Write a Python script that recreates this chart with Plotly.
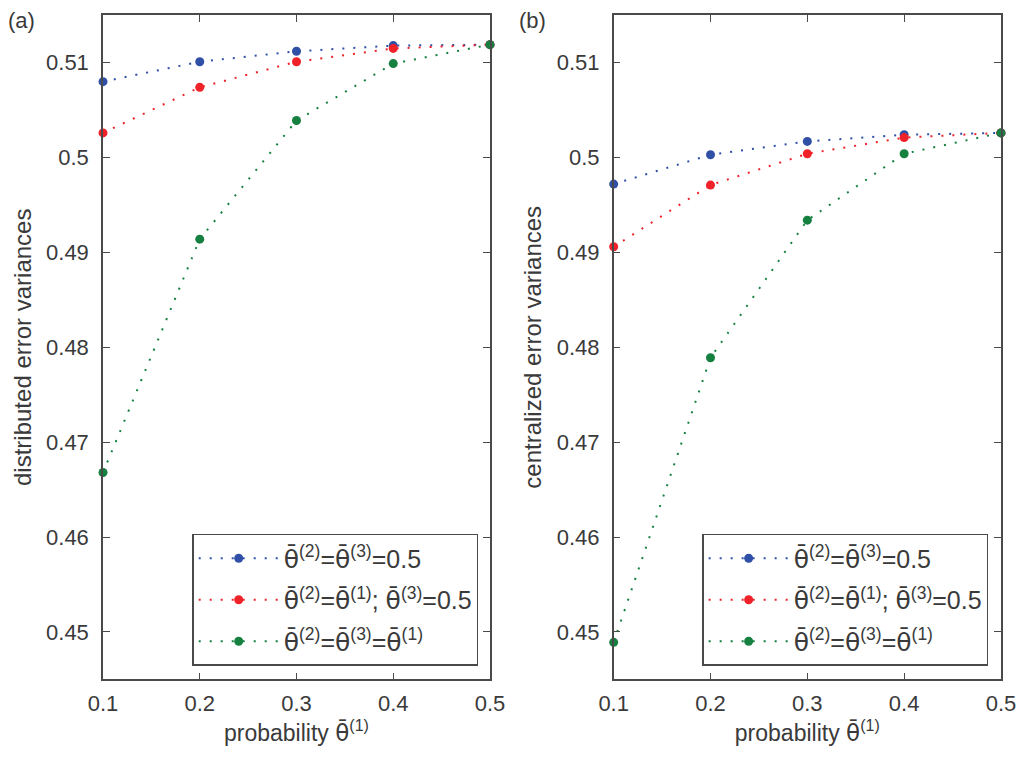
import plotly.graph_objects as go

# probability theta^(1)
prob = [0.1, 0.2, 0.3, 0.4, 0.5]

# (a) distributed error variances
dist_const = [0.5080, 0.5101, 0.5112, 0.5118, 0.5119]
dist_half = [0.5026, 0.5074, 0.5101, 0.5115, 0.5119]
dist_equal = [0.4668, 0.4914, 0.5039, 0.5099, 0.5119]

# (b) centralized error variances
cent_const = [0.4972, 0.5003, 0.5017, 0.5024, 0.5026]
cent_half = [0.4906, 0.4971, 0.5004, 0.5021, 0.5026]
cent_equal = [0.4489, 0.4789, 0.4934, 0.5004, 0.5026]

TH = "<span style='font-family:DejaVu Sans'>θ\u0304</span>"
series_names = [
    TH + "<sup>(2)</sup>=" + TH + "<sup>(3)</sup>=0.5",
    TH + "<sup>(2)</sup>=" + TH + "<sup>(1)</sup>; " + TH + "<sup>(3)</sup>=0.5",
    TH + "<sup>(2)</sup>=" + TH + "<sup>(3)</sup>=" + TH + "<sup>(1)</sup>",
]
colors = ["#3050a8", "#ee2228", "#168040"]

xticks = [0.1, 0.2, 0.3, 0.4, 0.5]
xtick_text = ["0.1", "0.2", "0.3", "0.4", "0.5"]
yticks = [0.45, 0.46, 0.47, 0.48, 0.49, 0.5, 0.51]
ytick_text = ["0.45", "0.46", "0.47", "0.48", "0.49", "0.5", "0.51"]

FONT = "Liberation Sans, Arial, sans-serif"
TXT = "#3a3a3a"
AX = "#4a4a4a"

fig = go.Figure()

panels = [
    ([dist_const, dist_half, dist_equal], "x", "y", "legend"),
    ([cent_const, cent_half, cent_equal], "x2", "y2", "legend2"),
]
for data, xa, ya, leg in panels:
    for i, (vals, name, col) in enumerate(zip(data, series_names, colors)):
        fig.add_trace(go.Scatter(
            x=prob, y=vals, name=name, xaxis=xa, yaxis=ya, legend=leg,
            legendgroup=leg + str(i),
            mode="lines+markers", cliponaxis=False,
            line=dict(color=col, width=2, dash="2px,9px"),
            marker=dict(color=col, size=9),
        ))

axis_common = dict(
    showline=True, linecolor=AX, linewidth=1.5, mirror="ticks",
    ticks="inside", ticklen=7, tickcolor=AX, tickwidth=1.2,
    showgrid=False, zeroline=False, automargin=False,
    tickfont=dict(family=FONT, size=22, color=TXT),
)
xtitle = dict(text="probability " + TH + "<sup>(1)</sup>", standoff=7,
              font=dict(family=FONT, size=23, color=TXT))
legend_common = dict(xanchor="right", yanchor="bottom",
                     bgcolor="white", bordercolor=AX, borderwidth=1.5,
                     font=dict(family=FONT, size=25, color=TXT),
                     itemwidth=80, tracegroupgap=6)

fig.update_layout(
    width=1024, height=762,
    margin=dict(l=0, r=0, t=0, b=0),
    paper_bgcolor="white", plot_bgcolor="white",
    font=dict(family=FONT, color=TXT, size=22),
    xaxis=dict(domain=[0.1006, 0.4785], range=[0.1, 0.5], anchor="y",
               tickvals=xticks, ticktext=xtick_text, ticklabelstandoff=4,
               title=xtitle, **axis_common),
    yaxis=dict(domain=[0.1085, 0.980], range=[0.445, 0.515], anchor="x",
               tickvals=yticks, ticktext=ytick_text, ticklabelstandoff=8,
               title=dict(text="distributed error variances", standoff=8,
                          font=dict(family=FONT, size=24, color=TXT)),
               **axis_common),
    xaxis2=dict(domain=[0.5993, 0.9775], range=[0.1, 0.5], anchor="y2",
                tickvals=xticks, ticktext=xtick_text, ticklabelstandoff=4,
                title=xtitle, **axis_common),
    yaxis2=dict(domain=[0.1085, 0.980], range=[0.445, 0.515], anchor="x2",
                tickvals=yticks, ticktext=ytick_text, ticklabelstandoff=8,
                title=dict(text="centralized error variances", standoff=8,
                           font=dict(family=FONT, size=24, color=TXT)),
                **axis_common),
    legend=dict(x=0.467, y=0.126, **legend_common),
    legend2=dict(x=0.965, y=0.126, **legend_common),
    annotations=[
        dict(text="(a)", x=0.006, y=0.992, xref="paper", yref="paper",
             xanchor="left", yanchor="top", showarrow=False,
             font=dict(family=FONT, size=22, color=TXT)),
        dict(text="(b)", x=0.505, y=0.992, xref="paper", yref="paper",
             xanchor="left", yanchor="top", showarrow=False,
             font=dict(family=FONT, size=22, color=TXT)),
    ],
)

fig.write_html("out.html", config={"displayModeBar": False},
               post_script="document.body.style.margin='0';")
